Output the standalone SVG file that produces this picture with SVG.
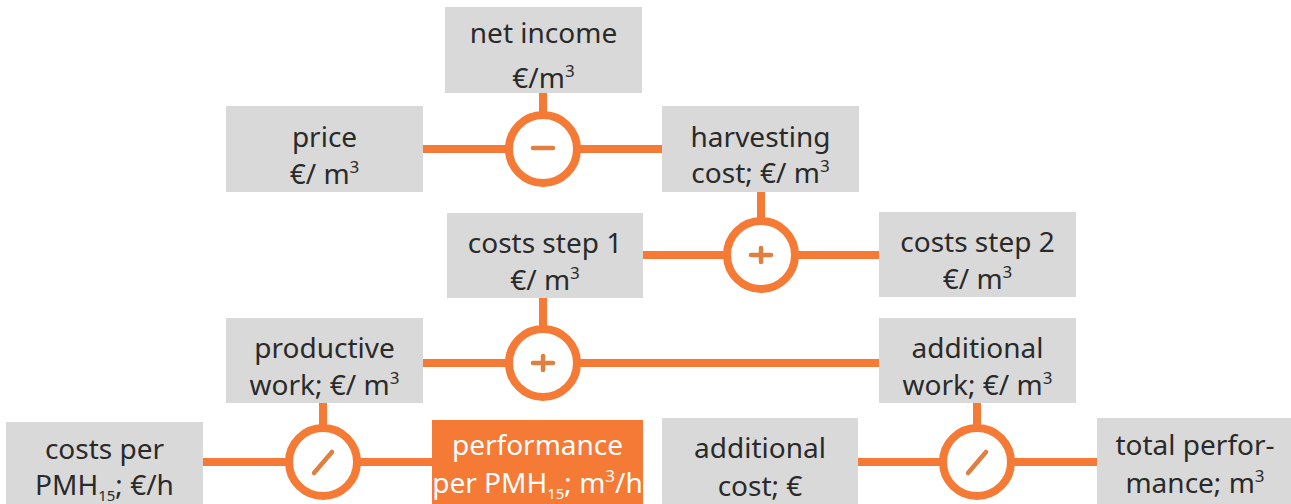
<svg xmlns="http://www.w3.org/2000/svg" width="1291" height="504" viewBox="0 0 1291 504">
<style>
.box{fill:#d9d9d9}
.hi{fill:#f47a36}
.t{font-family:"Noto Sans","Liberation Sans",sans-serif;font-size:28px;fill:#2a2a2a;text-anchor:middle}
.w{fill:#ffffff}
.con{stroke:#f47a36;stroke-width:8;fill:none}
.op{fill:#ffffff;stroke:#f47a36;stroke-width:8}
.sign{stroke:#e07f40;stroke-width:4.5;stroke-linecap:round;fill:none}
.sub{font-size:15px}
.sup{font-size:17px}
</style>
<rect width="1291" height="504" fill="#ffffff"/>
<g id="connectors">
<line class="con" x1="423" y1="149" x2="662" y2="149"/>
<line class="con" x1="543" y1="93" x2="543" y2="149"/>
<line class="con" x1="643" y1="255" x2="879" y2="255"/>
<line class="con" x1="761" y1="192" x2="761" y2="255"/>
<line class="con" x1="423" y1="363" x2="879" y2="363"/>
<line class="con" x1="543" y1="298" x2="543" y2="363"/>
<line class="con" x1="203" y1="462" x2="432" y2="462"/>
<line class="con" x1="323" y1="403" x2="323" y2="462"/>
<line class="con" x1="858" y1="462" x2="1097" y2="462"/>
<line class="con" x1="977" y1="403" x2="977" y2="462"/>
</g>
<g id="op-minus">
<circle class="op" cx="543" cy="149" r="34"/>
<line class="sign" x1="533" y1="148" x2="553" y2="148"/>
</g>
<g id="op-plus-1">
<circle class="op" cx="761" cy="255" r="34"/>
<line class="sign" x1="751" y1="255" x2="771" y2="255"/>
<line class="sign" x1="761" y1="248" x2="761" y2="262"/>
</g>
<g id="op-plus-2">
<circle class="op" cx="543" cy="363" r="34"/>
<line class="sign" x1="533" y1="363" x2="553" y2="363"/>
<line class="sign" x1="543" y1="356" x2="543" y2="370"/>
</g>
<g id="op-div-1">
<circle class="op" cx="323" cy="462" r="34"/>
<line class="sign" x1="314" y1="473" x2="332" y2="452"/>
</g>
<g id="op-div-2">
<circle class="op" cx="977" cy="462" r="34"/>
<line class="sign" x1="968" y1="473" x2="986" y2="452"/>
</g>
<g id="net-income">
<rect class="box" x="445" y="7" width="197" height="86"/>
<text class="t" x="543.5" y="43">net income</text>
<text class="t" x="543.5" y="88">€/m<tspan class="sup" dy="-11">3</tspan></text>
</g>
<g id="price">
<rect class="box" x="226" y="106" width="197" height="86"/>
<text class="t" x="324.5" y="147">price</text>
<text class="t" x="324.5" y="184">€/ m<tspan class="sup" dy="-11">3</tspan></text>
</g>
<g id="harvesting-cost">
<rect class="box" x="662" y="106" width="197" height="86"/>
<text class="t" x="760.5" y="147">harvesting</text>
<text class="t" x="760.5" y="183">cost; €/ m<tspan class="sup" dy="-11">3</tspan></text>
</g>
<g id="costs-step-1">
<rect class="box" x="447" y="213" width="196" height="85"/>
<text class="t" x="545" y="253">costs step 1</text>
<text class="t" x="545" y="290">€/ m<tspan class="sup" dy="-11">3</tspan></text>
</g>
<g id="costs-step-2">
<rect class="box" x="879" y="212" width="197" height="85"/>
<text class="t" x="977.5" y="252">costs step 2</text>
<text class="t" x="977.5" y="289">€/ m<tspan class="sup" dy="-11">3</tspan></text>
</g>
<g id="productive-work">
<rect class="box" x="226" y="318" width="197" height="85"/>
<text class="t" x="324.5" y="358">productive</text>
<text class="t" x="324.5" y="395">work; €/ m<tspan class="sup" dy="-11">3</tspan></text>
</g>
<g id="additional-work">
<rect class="box" x="879" y="318" width="197" height="85"/>
<text class="t" x="977.5" y="358">additional</text>
<text class="t" x="977.5" y="395">work; €/ m<tspan class="sup" dy="-11">3</tspan></text>
</g>
<g id="costs-per-pmh">
<rect class="box" x="6" y="422" width="197" height="90"/>
<text class="t" x="104.5" y="459">costs per</text>
<text class="t" x="104.5" y="495">PMH<tspan class="sub" dy="6">15</tspan><tspan dy="-6">; €/h</tspan></text>
</g>
<g id="performance-per-pmh">
<rect class="hi" x="432" y="420" width="211" height="90"/>
<text class="t w" x="537.5" y="455">performance</text>
<text class="t w" x="537.5" y="493">per PMH<tspan class="sub" dy="6">15</tspan><tspan dy="-6">; m</tspan><tspan class="sup" dy="-11">3</tspan><tspan dy="11">/h</tspan></text>
</g>
<g id="additional-cost">
<rect class="box" x="662" y="418" width="196" height="90"/>
<text class="t" x="760" y="458">additional</text>
<text class="t" x="760" y="496">cost; €</text>
</g>
<g id="total-performance">
<rect class="box" x="1097" y="418" width="200" height="90"/>
<text class="t" x="1195" y="455">total perfor-</text>
<text class="t" x="1195" y="493">mance; m<tspan class="sup" dy="-11">3</tspan></text>
</g>
</svg>
